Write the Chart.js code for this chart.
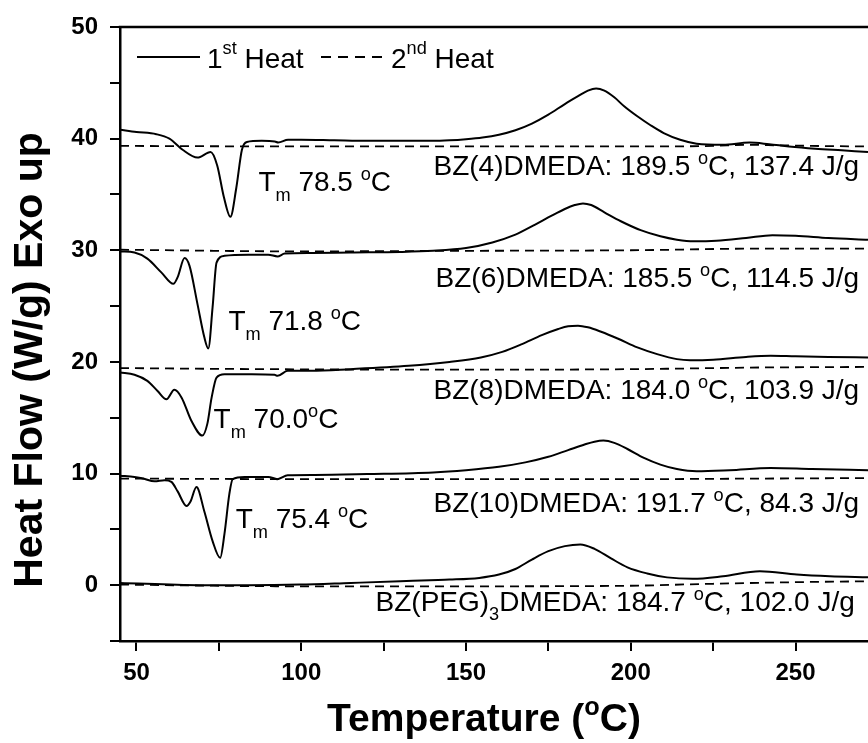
<!DOCTYPE html>
<html>
<head>
<meta charset="utf-8">
<script src="https://cdn.jsdelivr.net/npm/chart.js@4.4.1/dist/chart.umd.min.js"></script>
<style>
  html, body { margin: 0; padding: 0; background: #fff; }
  canvas { display: block; }
</style>
</head>
<body>
<canvas id="dsc" width="868" height="743"></canvas>
<script>
const FONT = "'Liberation Sans', Arial, Helvetica, sans-serif";

// DSC traces, stacked with a 10 W/g offset per sample.
// 1st heat = solid, 2nd heat = dashed.
const bz4Temp = [45, 50, 56, 60, 64, 68.5, 72.5, 74.5, 76.5, 78.5, 80.3, 82, 83.5, 88, 92, 93, 96, 100, 110, 120, 130, 140, 145, 150, 155, 160, 165, 170, 175, 180, 184, 187, 189.5, 192, 195, 198, 202, 206, 210, 215, 220, 228, 236, 242, 248, 256, 264, 272];
const bz4Flow = [40.8, 40.6, 40.4, 40.0, 39.0, 38.3, 38.8, 37.6, 34.8, 33.0, 35.6, 39.0, 39.7, 39.8, 39.75, 39.65, 39.9, 39.9, 39.85, 39.8, 39.8, 39.8, 39.85, 39.95, 40.1, 40.35, 40.75, 41.35, 42.15, 43.1, 43.8, 44.3, 44.5, 44.3, 43.7, 42.9, 42.0, 41.2, 40.5, 39.9, 39.55, 39.45, 39.65, 39.5, 39.3, 39.1, 38.95, 38.8];
const bz4Temp2 = [45, 100, 150, 200, 225, 235, 245, 255, 272];
const bz4Flow2 = [39.35, 39.3, 39.3, 39.3, 39.35, 39.45, 39.4, 39.35, 39.3];

const bz6Temp = [45, 49.4, 53.3, 57.6, 61.2, 62.5, 64.6, 66.1, 68.5, 70.6, 71.8, 73.1, 74.3, 76.7, 84, 90, 92.8, 95, 103, 115, 130, 140, 150, 158, 165, 171, 176, 180, 183, 185.5, 188, 192, 197, 203, 209, 214, 219, 226, 235, 243, 250, 260, 272];
const bz6Flow = [29.9, 29.8, 29.25, 28.0, 27.0, 27.6, 29.3, 28.6, 25.2, 22.2, 21.2, 24.9, 28.9, 29.5, 29.6, 29.6, 29.45, 29.7, 29.75, 29.8, 29.85, 29.95, 30.2, 30.7, 31.4, 32.3, 33.1, 33.7, 34.05, 34.2, 34.05, 33.4, 32.6, 31.8, 31.25, 30.95, 30.8, 30.85, 31.1, 31.35, 31.3, 31.1, 30.95];
const bz6Temp2 = [45, 100, 150, 200, 240, 272];
const bz6Flow2 = [30.05, 29.9, 29.95, 30.0, 30.15, 30.15];

const bz8Temp = [45, 49.4, 53.3, 56.4, 59.1, 61.5, 63.7, 66.7, 70, 71.5, 72.8, 74.3, 76.7, 85, 91.9, 92.8, 95.9, 103, 115, 132.6, 145, 154.5, 161, 167, 173, 178, 181, 184, 187, 191, 196, 202, 208, 214, 218, 225, 235, 242.5, 250, 260, 272];
const bz8Flow = [19.05, 18.85, 18.3, 17.4, 16.65, 17.5, 16.8, 14.7, 13.4, 14.45, 16.8, 18.6, 18.9, 18.9, 18.85, 18.75, 19.2, 19.2, 19.35, 19.65, 20.0, 20.4, 20.9, 21.6, 22.4, 22.95, 23.2, 23.25, 23.1, 22.7, 22.1, 21.3, 20.7, 20.25, 20.15, 20.2, 20.45, 20.55, 20.5, 20.45, 20.4];
const bz8Temp2 = [45, 90, 150, 200, 240, 272];
const bz8Flow2 = [19.45, 19.35, 19.3, 19.35, 19.5, 19.55];

const bz10Temp = [45, 49.4, 52, 55.5, 58.5, 60.6, 62.5, 65.2, 66.4, 68.2, 70.6, 73.1, 75.4, 76.7, 78.2, 79.2, 82.8, 90, 92.8, 95.9, 104, 120, 140, 150, 160, 168, 175, 181, 186, 189, 191.7, 195, 199, 204, 209, 214, 220, 230, 242.5, 255, 272];
const bz10Flow = [9.8, 9.7, 9.55, 9.3, 9.4, 9.25, 8.4, 7.1, 7.5, 8.8, 6.6, 3.95, 2.45, 4.6, 8.2, 9.5, 9.7, 9.7, 9.5, 9.85, 9.87, 9.95, 10.1, 10.3, 10.6, 11.0, 11.5, 12.1, 12.6, 12.85, 12.95, 12.75, 12.2, 11.4, 10.8, 10.4, 10.2, 10.3, 10.5, 10.4, 10.3];
const bz10Temp2 = [45, 100, 150, 200, 240, 272];
const bz10Flow2 = [9.55, 9.5, 9.5, 9.5, 9.55, 9.6];

const pegTemp = [45, 69, 84, 99.5, 115, 130, 139, 145, 154, 160, 165, 170, 175, 180, 184.7, 189, 194, 199, 205, 211, 218.8, 228, 239.2, 250.4, 260.4, 272];
const pegFlow = [0.2, 0.0, 0.0, 0.05, 0.2, 0.35, 0.45, 0.5, 0.65, 0.95, 1.45, 2.3, 3.05, 3.5, 3.65, 3.25, 2.4, 1.6, 1.05, 0.7, 0.57, 0.8, 1.25, 0.95, 0.8, 0.72];
const pegTemp2 = [45, 100, 150, 200, 221, 250, 272];
const pegFlow2 = [0.05, -0.1, -0.1, -0.05, 0.1, 0.27, 0.35];

// axis ticks: every 25 °C / 5 W/g, labels on every other one
const tempTicks = [50, 75, 100, 125, 150, 175, 200, 225, 250];
const tempLabels = [50, 100, 150, 200, 250];
const flowLabels = [0, 10, 20, 30, 40, 50];

// cure exotherm peak (°C) and enthalpy (J/g), melting point (°C)
const sampleNames = ['BZ(4)DMEDA', 'BZ(6)DMEDA', 'BZ(8)DMEDA', 'BZ(10)DMEDA', 'BZ(PEG)3DMEDA'];
const peakTemps = [189.5, 185.5, 184.0, 191.7, 184.7];
const enthalpies = [137.4, 114.5, 103.9, 84.3, 102.0];
const meltTemps = [78.5, 71.8, 70.0, 75.4];

// where the text sits, in axis units
const cureLabelAt = [
  { x: 269.3, y: 36.7 }, { x: 269.3, y: 26.7 }, { x: 269.3, y: 16.66 },
  { x: 269.3, y: 6.54 }, { x: 268.0, y: -2.33 }
];
const meltLabelAt = [
  { x: 87.0, y: 35.3, gap: ' ' }, { x: 77.9, y: 22.85, gap: ' ' },
  { x: 73.4, y: 14.06, gap: '' }, { x: 80.1, y: 5.1, gap: ' ' }
];

const pts = (xs, ys) => xs.map((x, i) => ({ x, y: ys[i] }));
const solid = (xs, ys) => ({ data: pts(xs, ys), borderColor: '#000', borderWidth: 2 });
const dashed = (xs, ys) => ({ data: pts(xs, ys), borderColor: '#000', borderWidth: 1.8, borderDash: [9, 6] });

const datasets = [
  solid(bz4Temp, bz4Flow), dashed(bz4Temp2, bz4Flow2),
  solid(bz6Temp, bz6Flow), dashed(bz6Temp2, bz6Flow2),
  solid(bz8Temp, bz8Flow), dashed(bz8Temp2, bz8Flow2),
  solid(bz10Temp, bz10Flow), dashed(bz10Temp2, bz10Flow2),
  solid(pegTemp, pegFlow), dashed(pegTemp2, pegFlow2)
];

// text with sub/superscript pieces: strings, or {t, sup|sub: shift as fraction of size}
function richText(ctx, parts, x, y, size, align, bold) {
  const w = bold ? 'bold ' : '';
  const spans = parts.map(p => {
    const s = typeof p === 'string' ? { t: p } : p;
    const fs = (s.sup || s.sub) ? size * 0.65 : size;
    ctx.font = `${w}${fs}px ${FONT}`;
    return Object.assign({}, s, { fs, w: ctx.measureText(s.t).width });
  });
  const total = spans.reduce((n, s) => n + s.w, 0);
  let cx = align === 'right' ? x - total : align === 'center' ? x - total / 2 : x;
  ctx.textAlign = 'left';
  ctx.textBaseline = 'alphabetic';
  for (const s of spans) {
    ctx.font = `${w}${s.fs}px ${FONT}`;
    const dy = s.sup ? -size * s.sup : s.sub ? size * s.sub : 0;
    ctx.fillText(s.t, cx, y + dy);
    cx += s.w;
  }
}

const overlay = {
  id: 'overlay',
  afterDraw(chart) {
    const { ctx, chartArea: a, scales: { x, y } } = chart;
    ctx.save();
    ctx.fillStyle = '#000';
    ctx.strokeStyle = '#000';

    // top frame
    ctx.lineWidth = 2.5;
    ctx.beginPath();
    ctx.moveTo(a.left - 1.25, a.top);
    ctx.lineTo(a.right, a.top);
    ctx.stroke();

    // legend
    ctx.lineWidth = 2;
    ctx.beginPath();
    ctx.moveTo(137, 57);
    ctx.lineTo(200, 57);
    ctx.stroke();
    richText(ctx, ['1', { t: 'st', sup: 0.5 }, ' Heat'], 207, 68, 28, 'left');
    ctx.setLineDash([10, 7]);
    ctx.beginPath();
    ctx.moveTo(321, 57);
    ctx.lineTo(386, 57);
    ctx.stroke();
    ctx.setLineDash([]);
    richText(ctx, ['2', { t: 'nd', sup: 0.5 }, ' Heat'], 391, 68, 28, 'left');

    // cure peak labels
    sampleNames.forEach((name, i) => {
      const pos = cureLabelAt[i];
      const head = name === 'BZ(PEG)3DMEDA'
        ? ['BZ(PEG)', { t: '3', sub: 0.33 }, 'DMEDA']
        : [name];
      const parts = head.concat([': ' + peakTemps[i].toFixed(1) + ' ', { t: 'o', sup: 0.4 },
        'C, ' + enthalpies[i].toFixed(1) + ' J/g']);
      richText(ctx, parts, x.getPixelForValue(pos.x), y.getPixelForValue(pos.y), 28, 'right');
    });

    // melting point labels
    meltTemps.forEach((tm, i) => {
      const pos = meltLabelAt[i];
      const parts = ['T', { t: 'm', sub: 0.36 }, ' ' + tm.toFixed(1) + pos.gap, { t: 'o', sup: 0.4 }, 'C'];
      richText(ctx, parts, x.getPixelForValue(pos.x), y.getPixelForValue(pos.y), 28, 'left');
    });

    // axis titles
    richText(ctx, ['Temperature (', { t: 'o', sup: 0.42 }, 'C)'], 484, 731, 39, 'center', true);
    ctx.translate(42, 360);
    ctx.rotate(-Math.PI / 2);
    ctx.font = `bold 41px ${FONT}`;
    ctx.textAlign = 'center';
    ctx.textBaseline = 'alphabetic';
    ctx.fillText('Heat Flow (W/g) Exo up', 0, 0);
    ctx.restore();
  }
};

const tickFont = { family: FONT, size: 24, weight: 'bold' };

new Chart(document.getElementById('dsc'), {
  type: 'line',
  data: { datasets },
  options: {
    responsive: false,
    animation: false,
    devicePixelRatio: 1,
    layout: { padding: { top: 27, left: 0, right: 0, bottom: 0 } },
    plugins: { legend: { display: false }, tooltip: { enabled: false } },
    elements: {
      point: { radius: 0 },
      line: { cubicInterpolationMode: 'monotone', fill: false }
    },
    scales: {
      x: {
        type: 'linear',
        bounds: 'data',
        min: 45,
        max: 272,
        border: { color: '#000', width: 2.5 },
        grid: { drawOnChartArea: false, color: '#000', lineWidth: 2, tickLength: 10 },
        afterBuildTicks: s => { s.ticks = tempTicks.map(value => ({ value })); },
        ticks: {
          autoSkip: false,
          maxRotation: 0,
          padding: 8,
          color: '#000',
          font: tickFont,
          callback: v => (tempLabels.includes(v) ? String(v) : '')
        },
        afterFit: s => { s.height = 102; }
      },
      y: {
        min: -5,
        max: 50,
        border: { color: '#000', width: 2.5 },
        grid: { drawOnChartArea: false, color: '#000', lineWidth: 2, tickLength: 10 },
        ticks: {
          stepSize: 5,
          autoSkip: false,
          padding: 12,
          color: '#000',
          font: tickFont,
          callback: v => (flowLabels.includes(v) ? String(v) : '')
        },
        afterFit: s => { s.width = 120; }
      }
    }
  },
  plugins: [overlay]
});
</script>
</body>
</html>
